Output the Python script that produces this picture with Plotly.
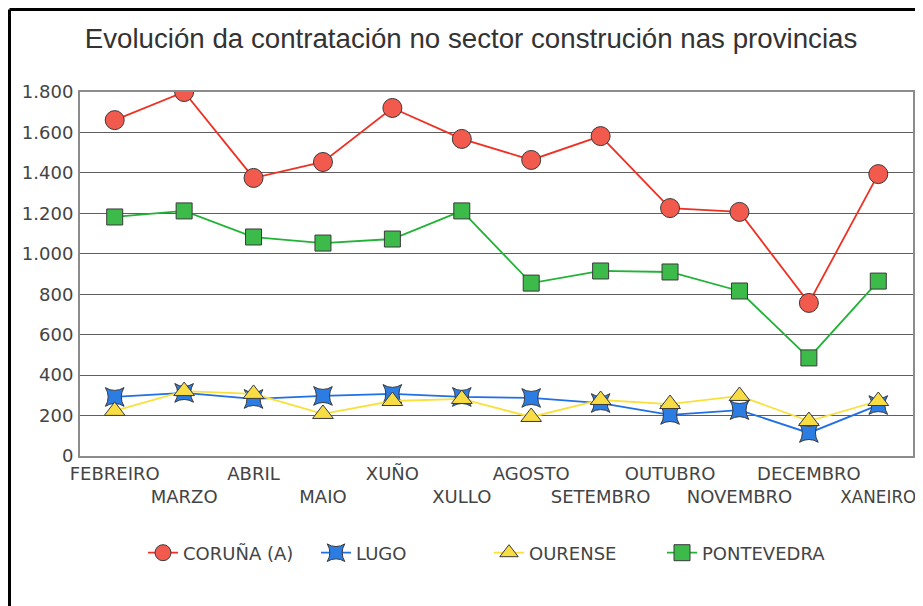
import plotly.graph_objects as go

months = ["FEBREIRO", "MARZO", "ABRIL", "MAIO", "XUÑO", "XULLO", "AGOSTO",
          "SETEMBRO", "OUTUBRO", "NOVEMBRO", "DECEMBRO", "XANEIRO"]
coruna = [1661, 1800, 1375, 1454, 1721, 1568, 1464, 1582, 1226, 1207, 757, 1394]
lugo = [292, 312, 282, 297, 307, 292, 287, 262, 203, 227, 114, 252]
ourense = [223, 321, 307, 208, 272, 282, 193, 277, 257, 297, 173, 272]
pontevedra = [1182, 1212, 1083, 1053, 1073, 1212, 855, 915, 910, 816, 485, 865]
y_ticks = [0, 200, 400, 600, 800, 1000, 1200, 1400, 1600, 1800]

series = [
    ("CORUÑA (A)", coruna, "circle", "#f25a4e", "#ee3124", 19),
    ("LUGO", lugo, "star-square", "#2b7de3", "#1f6fe6", 17),
    ("OURENSE", ourense, "triangle-up", "#f7dc43", "#f9e03a", 18),
    ("PONTEVEDRA", pontevedra, "square", "#3cba4a", "#20b335", 16),
]

fig = go.Figure()
for name, vals, sym, fill, lc, sz in series:
    fig.add_trace(go.Scatter(
        x=list(range(len(months))), y=vals, name=name, mode="lines+markers",
        line=dict(color=lc, width=1.8),
        marker=dict(symbol=sym, size=sz, color=fill,
                    line=dict(color="#3a3a3a", width=1)),
    ))

ticktext = [m if i % 2 == 0 else "<br>" + m for i, m in enumerate(months)]
ticktext[-1] = "<br><span style='font-size:16.8px'>" + months[-1] + "</span>"

# page body has an 8px margin: work in figure coordinates = screen - 8
OFF = 8
W, H = 923 - OFF, 606 - OFF
L, T = 80 - OFF, 92 - OFF
R = W - (913 - OFF)
B = H - (456 - OFF)
pw, ph = W - L - R, H - T - B
x_left = (1.5 - L) / pw
y_top = 1 + (T - 1.5) / ph
tf = dict(family="DejaVu Sans", size=18, color="#444444")

fig.update_layout(
    width=W, height=H,
    margin=dict(l=L, r=R, t=T, b=B, autoexpand=False),
    paper_bgcolor="white", plot_bgcolor="white",
    separators=",.",
    title=dict(text="Evolución da contratación no sector construción nas provincias",
               x=(471 - OFF) / W, xanchor="center", y=1 - (38 - OFF) / H, yanchor="middle",
               font=dict(family="Liberation Sans, Arial", size=27.7, color="#333333")),
    font=tf,
    showlegend=True,
    legend=dict(orientation="h", x=(143 - OFF - L) / pw, xanchor="left",
                y=(456 - 553) / ph, yanchor="middle",
                entrywidth=128, entrywidthmode="pixels", font=tf),
    xaxis=dict(range=[-0.5, 11.5], tickmode="array", automargin=False,
               tickvals=list(range(len(months))), ticktext=ticktext, tickangle=0,
               ticklabeloverflow="allow",
               showgrid=False, showline=True, linecolor="#8c8c8c", linewidth=2,
               mirror=True, ticks="", zeroline=False, tickfont=tf),
    yaxis=dict(range=[0, 1800], tickmode="array", tickvals=y_ticks, automargin=False,
               tickformat=",d", showgrid=True, gridcolor="#5e5e5e", gridwidth=1,
               showline=True, linecolor="#8c8c8c", linewidth=2, mirror=True,
               zeroline=False, ticks="", ticklabelstandoff=1, tickfont=tf),
    shapes=[
        dict(type="line", xref="paper", yref="paper", x0=x_left, x1=1.2,
             y0=y_top, y1=y_top, line=dict(color="black", width=3)),
        dict(type="line", xref="paper", yref="paper", x0=x_left, x1=x_left,
             y0=y_top, y1=-0.6, line=dict(color="black", width=3)),
    ],
)

fig.write_html("out.html")
